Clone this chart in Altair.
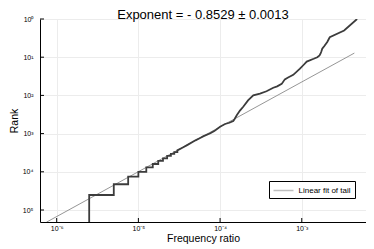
import altair as alt
import pandas as pd

# ---- data ----
TOTAL_TOKENS = 400000          # frequency ratio = count / total tokens
RANK_MAX = 230000              # rank reached by the singleton words (bottom of plot)

# low-frequency staircase: word count level and first rank having that count
step_counts = [1, 2, 3, 4, 5, 6, 7, 8, 9, 10, 11, 12]
step_first_rank = [40500, 21200, 13400, 10000, 7640, 6250, 5200, 4450, 3850, 3400, 3050, 2750]

# higher-frequency part of the rank/frequency curve
smooth_freq = [3.5e-5, 4.0e-5, 5.0e-5, 5.7e-5, 6.2e-5, 7.6e-5, 8.5e-5, 1.0e-4, 1.15e-4, 1.3e-4,
               1.45e-4, 1.5e-4, 1.6e-4, 1.75e-4, 1.92e-4, 2.2e-4, 2.55e-4, 3.08e-4, 3.7e-4,
               4.48e-4, 5.0e-4, 5.68e-4, 6.2e-4, 6.8e-4, 7.87e-4, 9.5e-4, 1.05e-3, 1.15e-3,
               1.4e-3, 1.55e-3, 1.65e-3, 1.7e-3, 1.74e-3, 1.78e-3, 1.9e-3, 2.05e-3, 2.2e-3,
               3.3e-3, 4.75e-3]
smooth_rank = [2300, 1970, 1500, 1300, 1180, 980, 860, 660, 560, 520,
               470, 420, 330, 250, 198, 135, 100, 90, 78,
               63, 58, 50, 38, 34, 29, 20, 16, 13,
               11, 10, 9, 8, 7, 6, 5, 4, 3,
               2, 1]

# linear fit of the tail (end points)
fit_freq = [7.5e-7, 4.4e-3]
fit_rank = [2.08e5, 7.8]
fit_name = "Linear fit of tail"

x_ticks = [1e-6, 1e-5, 1e-4, 1e-3]
y_ticks = [1, 10, 100, 1000, 10000, 100000]
x_domain = [6.25e-7, 6.11e-3]
y_domain = [1, 2.06e5]

title_text = "Exponent = - 0.8529 ± 0.0013"

# ---- build tables ----
pts = [(step_counts[0] / TOTAL_TOKENS, RANK_MAX)]
prev = None
for c, r in zip(step_counts, step_first_rank):
    f = c / TOTAL_TOKENS
    if prev is not None:
        pts.append((f, prev - 1))
    pts.append((f, r))
    prev = r
for f, r in zip(smooth_freq, smooth_rank):
    pts.append((f, r))
curve = pd.DataFrame(pts, columns=["freq", "rank"])
curve["idx"] = range(len(curve))

fit = pd.DataFrame({"freq": fit_freq, "rank": fit_rank, "series": [fit_name] * 2,
                    "idx": [0, 1]})
xt = pd.DataFrame({"freq": x_ticks})
yt = pd.DataFrame({"rank": y_ticks})

W, H = 326, 203
FONT = "Liberation Sans"
sup = "['⁰','¹','²','³','⁴','⁵','⁶','⁷','⁸','⁹']"

xscale = alt.Scale(type="log", domain=x_domain, nice=False)
yscale = alt.Scale(type="log", domain=y_domain, nice=False, reverse=True)

x_axis = alt.Axis(values=x_ticks, labelExpr="'10⁻' + " + sup + "[round(-log(datum.value)/LN10)]",
                  title="Frequency ratio", grid=True, ticks=False, labelPadding=2,
                  titlePadding=2, labelFontSize=7, titleFontSize=10.5)
y_axis = alt.Axis(values=y_ticks, labelExpr="'10' + " + sup + "[round(log(datum.value)/LN10)]",
                  title="Rank", grid=True, ticks=False, labelPadding=7,
                  titlePadding=3, labelFontSize=7, titleFontSize=10.5)

X = alt.X("freq:Q", scale=xscale, axis=x_axis)
Y = alt.Y("rank:Q", scale=yscale, axis=y_axis)

fit_line = alt.Chart(fit).mark_line(clip=True, strokeWidth=0.9).encode(
    x=X, y=Y,
    order="idx:Q",
    color=alt.Color("series:N", scale=alt.Scale(range=["#8a8a8a"]),
                    legend=alt.Legend(title=None, orient="none", legendX=229, legendY=162,
                                      padding=3.5, strokeColor="black", fillColor="white",
                                      symbolType="M-2,0H2", symbolSize=100, symbolOffset=5,
                                      symbolStrokeWidth=1.5, symbolOpacity=0.55,
                                      labelOffset=9, labelFontSize=8, labelFont=FONT,
                                      labelColor="black")),
)

data_line = alt.Chart(curve).mark_line(clip=True, strokeWidth=1.8, color="#3c3c3c").encode(
    x=X, y=Y, order="idx:Q",
)

ytick_marks = alt.Chart(yt).mark_rule(color="black", strokeWidth=1).encode(
    y=Y, x=alt.value(0), x2=alt.value(4),
)
xtick_marks = alt.Chart(xt).mark_rule(color="black", strokeWidth=1).encode(
    x=X, y=alt.value(H), y2=alt.value(H - 4),
)

chart = alt.layer(fit_line, data_line, ytick_marks, xtick_marks).properties(
    width=W, height=H,
    title=alt.TitleParams(title_text, fontSize=13, font=FONT, fontWeight="normal",
                          anchor="middle", frame="group", offset=1, dy=8, color="black"),
    autosize=alt.AutoSizeParams(type="none"),
    padding={"left": 32, "top": 11, "right": 0, "bottom": 27},
).configure_view(stroke=None).configure_axis(
    labelFont=FONT, titleFont=FONT, titleFontWeight="normal", labelColor="black",
    titleColor="black", domainColor="black", domainWidth=1, gridColor="#ececec",
    gridWidth=1,
)

chart.save("out.html", embed_options={"renderer": "svg", "actions": False})
